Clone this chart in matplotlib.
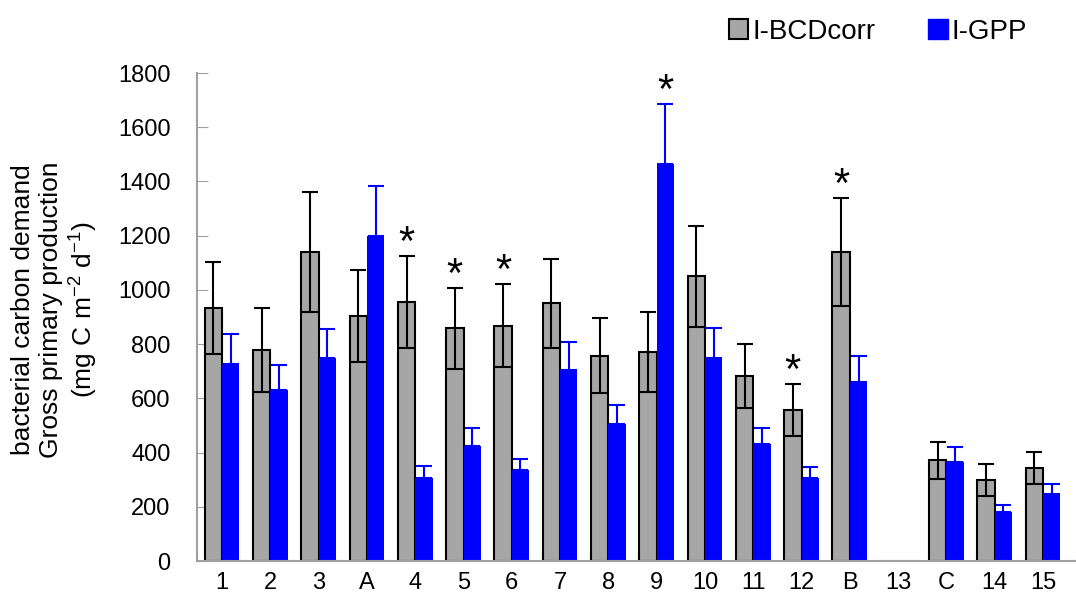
import numpy as np
import matplotlib.pyplot as plt
from matplotlib.patches import Patch

plt.rcParams["font.family"] = ["Liberation Sans", "DejaVu Sans"]

stations = ["1", "2", "3", "A", "4", "5", "6", "7", "8", "9",
            "10", "11", "12", "B", "13", "C", "14", "15"]
bcd = [932, 777, 1140, 904, 954, 858, 867, 950, 757, 770,
       1050, 682, 557, 1139, np.nan, 371, 299, 342]
bcd_err = [170, 155, 220, 170, 170, 148, 153, 165, 138, 147,
           186, 117, 95, 200, np.nan, 67, 58, 59]
gpp = [727, 632, 750, 1199, 305, 424, 335, 703, 505, 1464,
       750, 432, 306, 660, np.nan, 365, 181, 247]
gpp_err = [110, 92, 107, 184, 44, 66, 43, 105, 70, 222,
           109, 57, 42, 96, np.nan, 57, 27, 36]
star_bcd = ["4", "5", "6", "12", "B"]
star_gpp = ["9"]

GRAY = "#A6A6A6"
BLUE = "#0000FF"

fig = plt.figure(figsize=(10.76, 6.12), dpi=100)
ax = fig.add_axes([0.183, 0.0833, 0.816, 0.7974])

x = np.arange(len(stations))
w = 0.36
ax.bar(x - w / 2, bcd, width=w, color=GRAY, edgecolor="black", linewidth=1.5, zorder=2)
ax.errorbar(x - w / 2, bcd, yerr=bcd_err, fmt="none", ecolor="black",
            elinewidth=1.5, capsize=6, capthick=1.5, zorder=3)
ax.bar(x + w / 2, gpp, width=w, color=BLUE, edgecolor=BLUE, linewidth=0, zorder=2)
ax.errorbar(x + w / 2, gpp, yerr=[np.zeros(len(gpp)), gpp_err], fmt="none",
            ecolor=BLUE, elinewidth=1.5, capsize=6, capthick=1.5, zorder=1)

for i, s in enumerate(stations):
    if s in star_bcd:
        ax.text(x[i] - w / 2, bcd[i] + bcd_err[i] + 45, "*", ha="center",
                va="center", fontsize=30, color="black")
    if s in star_gpp:
        ax.text(x[i] + w / 2, gpp[i] + gpp_err[i] + 45, "*", ha="center",
                va="center", fontsize=30, color="black")

ax.set_xlim(-0.52, 17.66)
ax.set_ylim(0, 1800)
ax.set_yticks(np.arange(0, 1801, 200))
ax.set_xticks(x)
ax.set_xticklabels(stations)
ax.tick_params(axis="y", direction="in", length=8, color="#A0A0A0", labelsize=17, pad=19)
ax.tick_params(axis="x", length=0, labelsize=17, pad=8)
for side in ["top", "right"]:
    ax.spines[side].set_visible(False)
for side in ["left", "bottom"]:
    ax.spines[side].set_color("#A0A0A0")
    ax.spines[side].set_linewidth(1.5)

ax.set_ylabel("bacterial carbon demand\nGross primary production\n"
              r"(mg C $\mathregular{m^{-2}}$ $\mathregular{d^{-1}}$)",
              fontsize=19, linespacing=1.2)
ax.yaxis.set_label_coords(-0.11, 0.515)

handles = [Patch(facecolor=GRAY, edgecolor="black", linewidth=1.5),
           Patch(facecolor=BLUE, edgecolor=BLUE)]
fig.legend(handles, ["I-BCDcorr", "I-GPP"], loc="upper right",
           bbox_to_anchor=(0.978, 1.01), ncol=2, frameon=False, fontsize=20,
           handlelength=0.7, handleheight=0.7, handletextpad=0.15, columnspacing=1.9)

fig.savefig("out.png", dpi=100)
